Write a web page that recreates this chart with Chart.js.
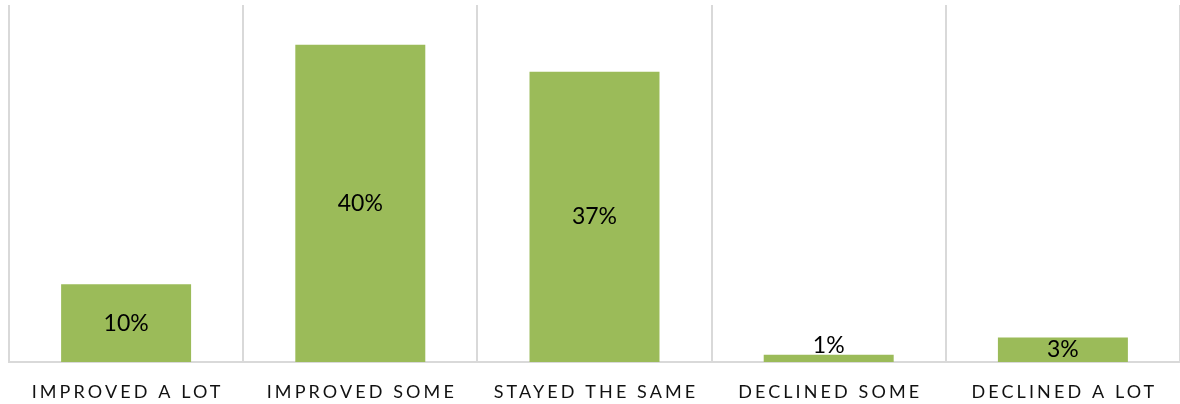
<!DOCTYPE html>
<html><head><meta charset="utf-8">
<script src="https://cdn.jsdelivr.net/npm/chart.js@4/dist/chart.umd.min.js"></script>
<style>html,body{margin:0;padding:0;background:#fff}#wrap{width:1180px;height:404px;position:relative}</style>
</head><body><div id="wrap"><canvas id="c" width="1180" height="404"></canvas></div>
<script>
const categories = ["IMPROVED A LOT", "IMPROVED SOME", "STAYED THE SAME", "DECLINED SOME", "DECLINED A LOT"];
const values = [9.8, 40, 36.6, 0.9, 3.1];
const valueLabels = ["10%", "40%", "37%", "1%", "3%"];
const yMax = 45;

const labelPlugin = {
  id: 'labels',
  afterDatasetsDraw(chart) {
    const ctx = chart.ctx;
    const meta = chart.getDatasetMeta(0);
    ctx.save();
    ctx.fillStyle = '#000';
    ctx.font = '23px Lato';
    ctx.textAlign = 'center';
    meta.data.forEach((el, i) => {
      const h = el.base - el.y;
      if (h < 20) {
        ctx.textBaseline = 'bottom';
        ctx.fillText(valueLabels[i], el.x, el.y + 2);
      } else {
        ctx.textBaseline = 'middle';
        ctx.fillText(valueLabels[i], el.x, (el.y + el.base) / 2);
      }
    });
    const xs = chart.scales.x;
    ctx.font = '18px Lato';
    ctx.fillStyle = '#111';
    ctx.textBaseline = 'middle';
    ctx.letterSpacing = '3.1px';
    categories.forEach((c, i) => {
      const x = xs.getPixelForValue(i);
      ctx.fillText(c, x + 1.5, 392);
    });
    ctx.restore();
  }
};

new Chart(document.getElementById('c'), {
  type: 'bar',
  data: { labels: categories, datasets: [{ data: values, backgroundColor: '#9BBB59', borderWidth: 0, categoryPercentage: 1, barPercentage: 0.555 }] },
  options: {
    responsive: false, animation: false,
    layout: { padding: { left: 9, top: 5, right: 0, bottom: 42 } },
    plugins: { legend: { display: false }, tooltip: { enabled: false } },
    scales: {
      x: {
        offset: true,
        ticks: { display: false },
        grid: { offset: true, drawTicks: false, lineWidth: 2, color: (c) => c.index === categories.length ? 'rgba(0,0,0,0)' : '#d9d9d9' },
        border: { display: true, color: '#d9d9d9', width: 2 }
      },
      y: { display: false, min: 0, max: yMax }
    }
  },
  plugins: [labelPlugin]
});
</script></body></html>
